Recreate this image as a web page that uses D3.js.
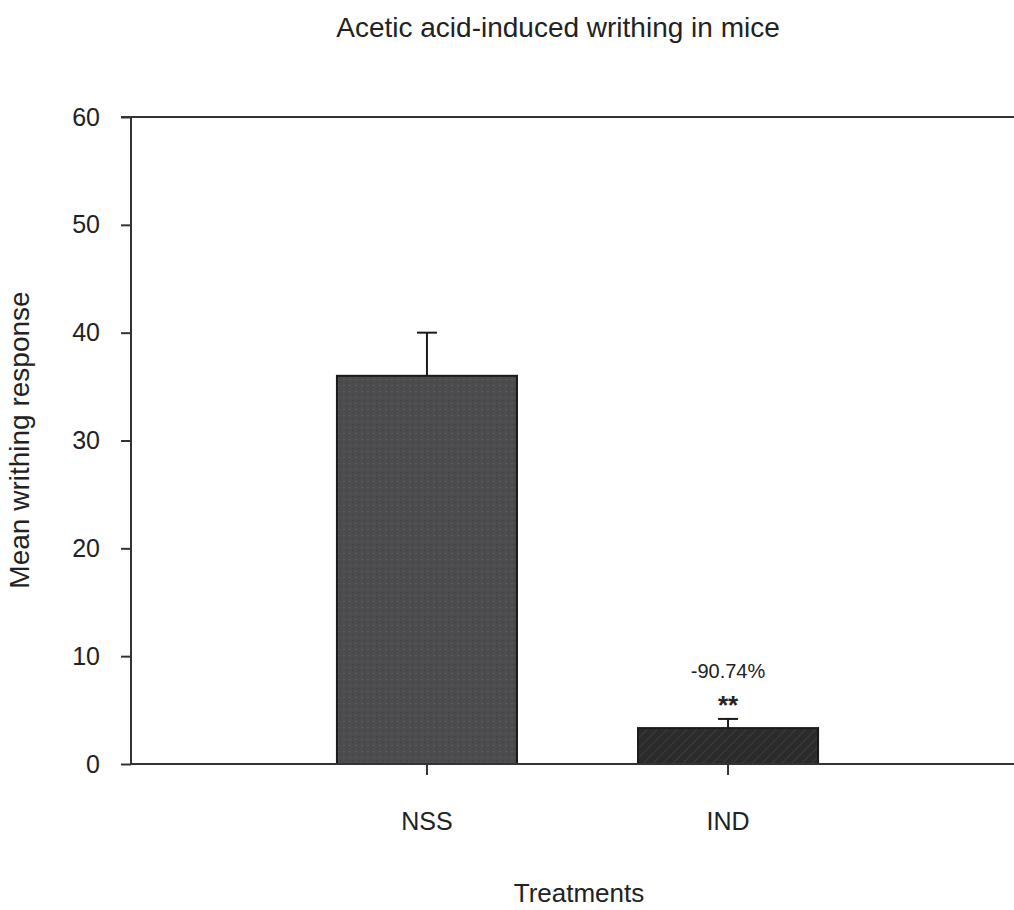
<!DOCTYPE html>
<html>
<head>
<meta charset="utf-8">
<script src="https://cdn.jsdelivr.net/npm/d3@7"></script>
<style>
  body { margin: 0; background: #fff; }
  text { font-family: "Liberation Sans", Arial, sans-serif; fill: #222; }
</style>
</head>
<body>
<div id="chart"></div>
<script>
// Chart data.
var categories = ["NSS", "IND"];
var means = [36.0, 3.33];
var errors = [4.0, 0.85];
var annotations = ["", "-90.74%"];
var stars = ["", "**"];
var yTicks = [0, 10, 20, 30, 40, 50, 60];

var width = 1014;
var height = 910;

var svg = d3.select("div#chart")
  .append("svg")
    .attr("width", width)
    .attr("height", height);

var plotLeft = 131, plotRight = 1024, plotTop = 117, plotBottom = 764;

var x = d3.scaleBand()
  .domain(categories)
  .range([plotLeft, plotRight])
  .paddingInner(0.402)
  .paddingOuter(0.684);

var y = d3.scaleLinear()
  .domain([0, 60])
  .range([plotBottom, plotTop]);

// Fill patterns: speckled grey for NSS, dark hatched for IND.
var defs = svg.append("defs");
var speck = defs.append("pattern")
    .attr("id", "speck")
    .attr("patternUnits", "userSpaceOnUse")
    .attr("width", 6).attr("height", 6);
speck.append("rect").attr("width", 6).attr("height", 6).attr("fill", "#4c4c4e");
speck.append("rect").attr("x", 1).attr("y", 1).attr("width", 2).attr("height", 1).attr("fill", "#5c5c5c");
speck.append("rect").attr("x", 4).attr("y", 4).attr("width", 1).attr("height", 1).attr("fill", "#3c3c3e");

var hatch = defs.append("pattern")
    .attr("id", "hatch")
    .attr("patternUnits", "userSpaceOnUse")
    .attr("width", 7).attr("height", 7)
    .attr("patternTransform", "rotate(45)");
hatch.append("rect").attr("width", 7).attr("height", 7).attr("fill", "#2b2b2b");
hatch.append("line")
    .attr("x1", 0).attr("y1", 0).attr("x2", 0).attr("y2", 7)
    .attr("stroke", "#3d3d3d").attr("stroke-width", 2);

var fills = ["url(#speck)", "url(#hatch)"];

// Bars
svg.selectAll("rect.bar")
  .data(means)
  .enter()
  .append("rect")
    .attr("class", "bar")
    .attr("x", function (d, i) { return x(categories[i]); })
    .attr("y", function (d) { return y(d); })
    .attr("width", x.bandwidth())
    .attr("height", function (d) { return y(0) - y(d); })
    .attr("fill", function (d, i) { return fills[i]; })
    .attr("stroke", "#1a1a1a")
    .attr("stroke-width", 2);

// Error bars (upper only)
var cx = function (i) { return x(categories[i]) + x.bandwidth() / 2; };
means.forEach(function (m, i) {
  svg.append("line")
    .attr("x1", cx(i)).attr("x2", cx(i))
    .attr("y1", y(m)).attr("y2", y(m + errors[i]))
    .attr("stroke", "#1a1a1a").attr("stroke-width", 2);
  svg.append("line")
    .attr("x1", cx(i) - 10).attr("x2", cx(i) + 10)
    .attr("y1", y(m + errors[i])).attr("y2", y(m + errors[i]))
    .attr("stroke", "#1a1a1a").attr("stroke-width", 2);
  if (annotations[i]) {
    svg.append("text")
      .attr("x", cx(i)).attr("y", y(m + errors[i]) - 41)
      .attr("text-anchor", "middle")
      .style("font-size", "20px")
      .text(annotations[i]);
    svg.append("text")
      .attr("x", cx(i)).attr("y", y(m + errors[i]) - 5)
      .attr("text-anchor", "middle")
      .style("font-size", "26px")
      .style("font-weight", "bold")
      .text(stars[i]);
  }
});

// Frame line at the top (runs off to the right edge)
svg.append("line")
  .attr("x1", plotLeft - 10).attr("x2", width)
  .attr("y1", plotTop).attr("y2", plotTop)
  .attr("stroke", "#333").attr("stroke-width", 2);

// Y axis
var yAxis = d3.axisLeft(y)
  .tickValues(yTicks)
  .tickSize(10)
  .tickPadding(21);

var gy = svg.append("g")
  .attr("transform", "translate(" + plotLeft + ",0)")
  .call(yAxis);
gy.select(".domain").attr("stroke", "#333").attr("stroke-width", 2)
  .attr("d", "M0," + plotTop + "V" + plotBottom);
gy.selectAll(".tick line").attr("stroke", "#333").attr("stroke-width", 2);
gy.selectAll(".tick text")
  .style("font-size", "25px")
  .style("font-family", "'Liberation Sans', Arial, sans-serif")
  .attr("fill", "#222");

// X axis
var xAxis = d3.axisBottom(x)
  .tickSize(11)
  .tickPadding(37);

var gx = svg.append("g")
  .attr("transform", "translate(0," + plotBottom + ")")
  .call(xAxis);
gx.select(".domain").attr("stroke", "#333").attr("stroke-width", 2)
  .attr("d", "M" + plotLeft + ",0H" + width);
gx.selectAll(".tick line").attr("stroke", "#333").attr("stroke-width", 2);
gx.selectAll(".tick text")
  .style("font-size", "25px")
  .style("font-family", "'Liberation Sans', Arial, sans-serif")
  .attr("fill", "#222");

// Titles
svg.append("text")
  .attr("x", 558).attr("y", 37)
  .attr("text-anchor", "middle")
  .style("font-size", "28px")
  .text("Acetic acid-induced writhing in mice");

svg.append("text")
  .attr("x", 579).attr("y", 902)
  .attr("text-anchor", "middle")
  .style("font-size", "26px")
  .text("Treatments");

svg.append("text")
  .attr("transform", "translate(29,440) rotate(-90)")
  .attr("text-anchor", "middle")
  .style("font-size", "28px")
  .text("Mean writhing response");
</script>
</body>
</html>
